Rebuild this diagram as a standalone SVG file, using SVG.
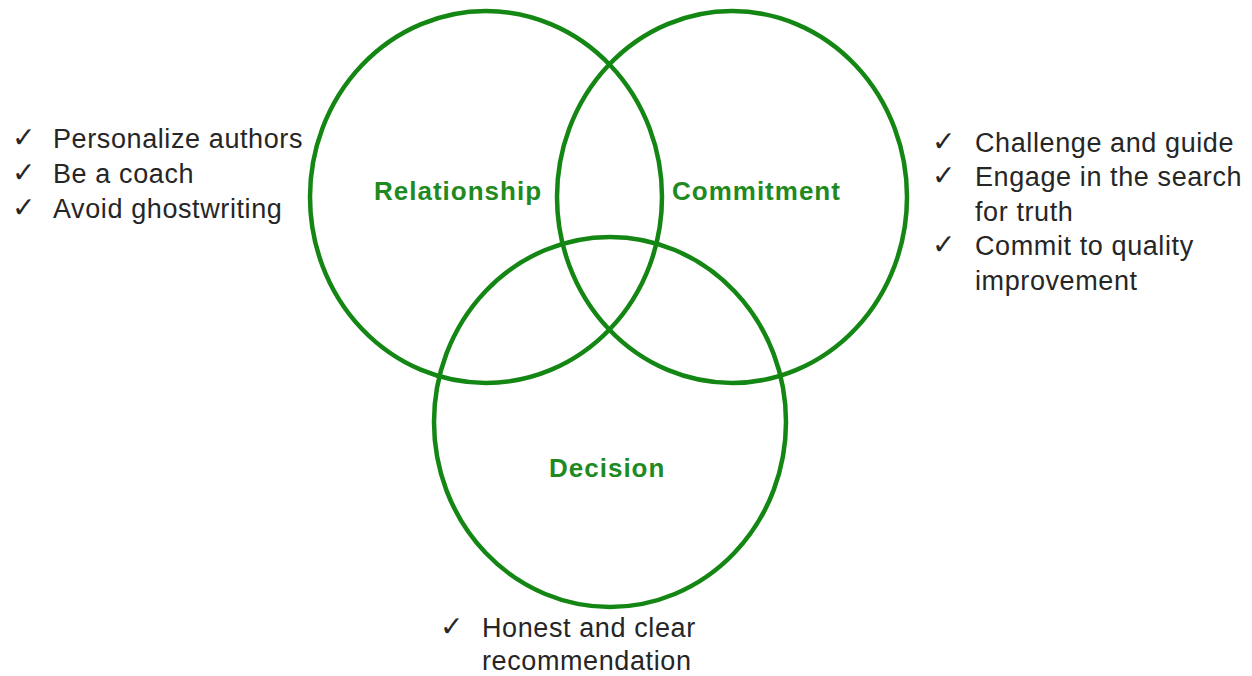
<svg xmlns="http://www.w3.org/2000/svg" width="1252" height="676" viewBox="0 0 1252 676">
  <style>
    .ring { fill: none; stroke: #138613; stroke-width: 4.5; }
    .label { font-family: "Liberation Sans", Arial, sans-serif; font-weight: bold; font-size: 26px; fill: #1f8a1f; letter-spacing: 1px; }
    .item { font-family: "Liberation Sans", Arial, sans-serif; font-size: 27px; fill: #262626; letter-spacing: 0.6px; }
    .check { font-family: "DejaVu Sans", sans-serif; font-size: 28px; fill: #262626; }
  </style>
  <rect width="1252" height="676" fill="#ffffff"/>
  <g id="connectors"/>
  <g id="relationship">
    <ellipse class="ring" cx="486" cy="197" rx="176" ry="186"/>
    <text class="label" x="374" y="200">Relationship</text>
  </g>
  <g id="commitment">
    <ellipse class="ring" cx="732" cy="197" rx="175" ry="186"/>
    <text class="label" x="672" y="200">Commitment</text>
  </g>
  <g id="decision">
    <ellipse class="ring" cx="610" cy="422" rx="176" ry="185"/>
    <text class="label" x="549" y="477">Decision</text>
  </g>
  <g id="relationship-list">
    <text class="check" x="12" y="147">✓</text>
    <text class="item" x="53" y="148">Personalize authors</text>
    <text class="check" x="12" y="182">✓</text>
    <text class="item" x="53" y="183">Be a coach</text>
    <text class="check" x="12" y="217">✓</text>
    <text class="item" x="53" y="218">Avoid ghostwriting</text>
  </g>
  <g id="commitment-list">
    <text class="check" x="932" y="151">✓</text>
    <text class="item" x="975" y="152">Challenge and guide</text>
    <text class="check" x="932" y="185">✓</text>
    <text class="item" x="975" y="186">Engage in the search</text>
    <text class="item" x="975" y="221">for truth</text>
    <text class="check" x="932" y="254">✓</text>
    <text class="item" x="975" y="255">Commit to quality</text>
    <text class="item" x="975" y="290">improvement</text>
  </g>
  <g id="decision-list">
    <text class="check" x="440" y="636">✓</text>
    <text class="item" x="482" y="637">Honest and clear</text>
    <text class="item" x="482" y="670">recommendation</text>
  </g>
</svg>
